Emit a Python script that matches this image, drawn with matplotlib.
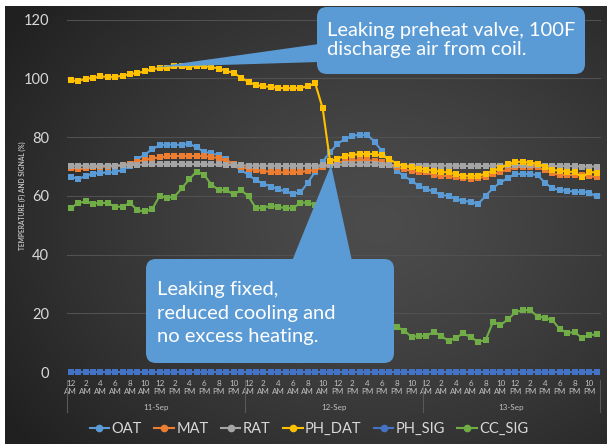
import matplotlib
matplotlib.use("Agg")
import matplotlib.pyplot as plt
import numpy as np
from matplotlib.lines import Line2D
from matplotlib.patches import FancyBboxPatch, Polygon
from matplotlib.transforms import blended_transform_factory

plt.rcParams['font.family'] = ['Lato', 'DejaVu Sans']

# hourly samples, 11-Sep 12 AM to 13-Sep 11 PM
hours = list(range(72))
hour_labels = ["12\nAM", "2\nAM", "4\nAM", "6\nAM", "8\nAM", "10\nAM",
               "12\nPM", "2\nPM", "4\nPM", "6\nPM", "8\nPM", "10\nPM"] * 3
dates = ["11-Sep", "12-Sep", "13-Sep"]

oat = [66.6, 65.7, 66.8, 67.6, 67.8, 68.0, 68.1, 68.9, 70.2, 72.5, 74.1, 75.9,
       77.3, 77.5, 77.5, 77.3, 77.8, 76.5, 75.0, 74.5, 73.8, 72.5, 70.5, 68.8,
       67.2, 65.3, 64.2, 63.2, 62.3, 61.5, 60.8, 61.2, 64.5, 68.3, 71.7, 74.8,
       77.8, 79.3, 80.5, 80.8, 80.8, 78.5, 75.3, 71.4, 68.5, 66.8, 65.1, 63.4,
       62.3, 61.5, 60.3, 60.0, 58.9, 58.3, 58.0, 57.3, 60.0, 62.7, 64.6, 66.1,
       67.5, 67.5, 67.5, 67.1, 64.5, 62.6, 62.0, 61.8, 61.4, 61.4, 61.1, 59.8]
mat = [69.6, 69.1, 69.4, 69.7, 69.9, 70.0, 70.1, 70.5, 71.0, 71.7, 72.2, 72.8,
       73.1, 73.5, 73.6, 73.6, 73.6, 73.6, 73.6, 73.3, 72.8, 71.9, 70.8, 69.7,
       69.3, 68.8, 68.5, 68.2, 68.0, 68.0, 68.0, 68.2, 68.5, 68.9, 69.7, 70.5,
       71.4, 71.7, 71.9, 72.2, 72.2, 71.9, 71.4, 70.6, 69.7, 69.1, 68.5, 68.2,
       68.0, 67.1, 66.8, 66.8, 66.3, 66.0, 65.9, 66.0, 66.6, 67.5, 68.2, 69.0,
       69.7, 69.9, 69.9, 69.7, 68.8, 67.7, 67.1, 67.1, 67.1, 67.1, 66.8, 66.3]
rat = [70.3, 70.3, 70.3, 70.3, 70.3, 70.3, 70.3, 70.4, 70.5, 70.6, 70.7, 70.7,
       70.8, 70.8, 70.8, 70.8, 70.8, 70.8, 70.8, 70.7, 70.7, 70.6, 70.5, 70.4,
       70.3, 70.3, 70.3, 70.2, 70.2, 70.2, 70.2, 70.2, 70.3, 70.3, 70.4, 70.5,
       70.6, 70.7, 70.7, 70.7, 70.7, 70.7, 70.6, 70.5, 70.4, 70.3, 70.3, 70.3,
       70.3, 70.3, 70.3, 70.3, 70.3, 70.2, 70.2, 70.2, 70.2, 70.3, 70.3, 70.4,
       70.5, 70.5, 70.5, 70.4, 70.3, 70.2, 70.2, 70.2, 70.1, 70.0, 70.0, 70.0]
ph_dat = [99.4, 99.1, 99.9, 100.2, 100.7, 100.6, 100.5, 101.0, 101.5, 101.9, 102.4, 103.2,
          103.5, 103.5, 104.2, 104.1, 103.9, 104.4, 104.2, 103.9, 103.4, 102.6, 101.9, 100.3,
          98.8, 97.8, 97.3, 97.2, 96.8, 96.7, 96.7, 96.8, 97.4, 98.3, 89.9, 71.8,
          72.7, 73.6, 74.0, 74.2, 74.4, 74.2, 73.8, 72.5, 71.0, 70.2, 69.7, 69.3,
          68.9, 68.6, 68.2, 68.0, 67.3, 66.9, 66.8, 66.9, 67.5, 68.6, 69.4, 70.7,
          71.6, 71.6, 71.3, 71.0, 69.9, 68.8, 68.6, 68.2, 68.2, 66.3, 68.2, 67.9]
ph_sig = [0.0] * 72
cc_sig = [55.8, 57.6, 58.1, 57.4, 57.6, 57.6, 56.3, 56.3, 57.6, 55.1, 54.7, 55.5,
          60.0, 59.4, 59.7, 62.6, 65.7, 68.3, 67.2, 63.8, 62.0, 62.0, 60.5, 62.0,
          59.8, 55.8, 56.0, 56.6, 56.3, 55.8, 55.8, 57.7, 57.7, 57.0, 40.0, 20.0,
          17.0, 16.0, 15.5, 15.0, 16.0, 15.5, 16.5, 16.0, 15.4, 14.1, 12.0, 12.3,
          12.3, 13.7, 12.3, 10.6, 11.7, 13.2, 11.8, 10.3, 10.9, 17.1, 16.0, 17.9,
          20.3, 21.1, 21.1, 18.9, 18.5, 17.7, 14.6, 13.4, 13.5, 11.7, 12.6, 12.8]

names = ["OAT", "MAT", "RAT", "PH_DAT", "PH_SIG", "CC_SIG"]
series = [oat, mat, rat, ph_dat, ph_sig, cc_sig]
colors = ["#5B9BD5", "#ED7D31", "#A5A5A5", "#FFC000", "#4472C4", "#70AD47"]

W, H = 607, 444
fig = plt.figure(figsize=(W / 100, H / 100), dpi=100, facecolor="white")

# dark radial background of the chart area
bg = fig.add_axes([5 / W, 0, (W - 5) / W, (H - 6) / H], zorder=-5)
gx, gy = np.meshgrid(np.linspace(0, 1, 300), np.linspace(0, 1, 300))
d = np.sqrt(((gx - 0.62) / 0.75) ** 2 + ((gy - 0.5) / 0.8) ** 2)
d = np.clip(d, 0, 1)
shade = 0x4c / 255 + (0x20 / 255 - 0x4c / 255) * d ** 1.3
bg.imshow(np.dstack([shade] * 3), extent=[0, 1, 0, 1], aspect="auto", origin="upper")
bg.axis("off")

ax = fig.add_axes([67 / W, (H - 372) / H, (600.5 - 67) / W, (372 - 19.8) / H])
ax.set_facecolor("none")

for vals, name, c in zip(series, names, colors):
    ax.plot(hours, vals, color=c, lw=1.5, marker="s", markersize=4,
            markeredgewidth=0, label=name, clip_on=False)

ax.set_xlim(-0.5, 71.5)
ax.set_ylim(0, 120)
ax.set_yticks(range(0, 121, 20))
ax.yaxis.grid(True, color="#515151", lw=0.8)
ax.set_axisbelow(True)
for s in ax.spines.values():
    s.set_visible(False)
ax.tick_params(axis="y", length=0, pad=13, labelsize=10.5, labelcolor="#d9d9d9")
ax.set_xticks(hours[::2])
ax.set_xticklabels(hour_labels)
ax.tick_params(axis="x", length=0, pad=6, labelsize=5.8, labelcolor="#bfbfbf")
for t in ax.get_xticklabels():
    t.set_linespacing(1.15)

# multi-level category axis: day names and group separators
tr = blended_transform_factory(ax.transData, ax.transAxes)
for k, day in enumerate(dates):
    ax.text(k * 24 + 11.5, -0.1, day, transform=tr, ha="center", va="center",
            fontsize=5.8, color="#bfbfbf")
for k in range(4):
    ax.plot([k * 24 - 0.5] * 2, [-0.022, -0.113], transform=tr, color="#595959",
            lw=0.8, clip_on=False)

fig.text(22 / W, 1 - 196 / H, "TEMPERATURE (F) AND SIGNAL (%)", rotation=90,
         fontsize=4.8, fontweight="bold", color="#bfbfbf", ha="center", va="center")

handles = [Line2D([0], [0], color=c, lw=1.5, marker="o", markersize=4.5) for c in colors]
fig.legend(handles, names, loc="center", bbox_to_anchor=(309 / W, 1 - 429 / H), ncol=6,
           frameon=False, fontsize=10.5, handlelength=1.35, handletextpad=0.15,
           columnspacing=0.85, labelcolor="#d9d9d9")

# callouts, positioned in pixels of the 607x444 canvas
blue = "#5B9BD5"


def P(x, y):
    return (x / 100, (H - y) / 100)


def callout(x0, y0, x1, y1, wedge):
    box = FancyBboxPatch(P(x0, y1), (x1 - x0) / 100, (y1 - y0) / 100,
                         boxstyle="round,pad=0,rounding_size=0.1",
                         transform=fig.dpi_scale_trans, fc=blue, ec="none", zorder=3)
    fig.add_artist(box)
    fig.add_artist(Polygon([P(*p) for p in wedge], closed=True,
                           transform=fig.dpi_scale_trans, fc=blue, ec="none", zorder=3))


callout(317, 7, 585, 74, [(319, 44), (155, 67), (319, 62)])
callout(146, 259, 394, 363, [(292, 261), (331, 165), (352, 261)])

fig.text(*P(327, 40), "Leaking preheat valve, 100F\ndischarge air from coil.",
         transform=fig.dpi_scale_trans, ha="left", va="center", color="white",
         fontsize=14.5, linespacing=1.15, zorder=4)
fig.text(*P(157, 313), "Leaking fixed,\nreduced cooling and\nno excess heating.",
         transform=fig.dpi_scale_trans, ha="left", va="center", color="white",
         fontsize=14.5, linespacing=1.45, zorder=4)

fig.savefig("out.png", dpi=100, facecolor="white")
